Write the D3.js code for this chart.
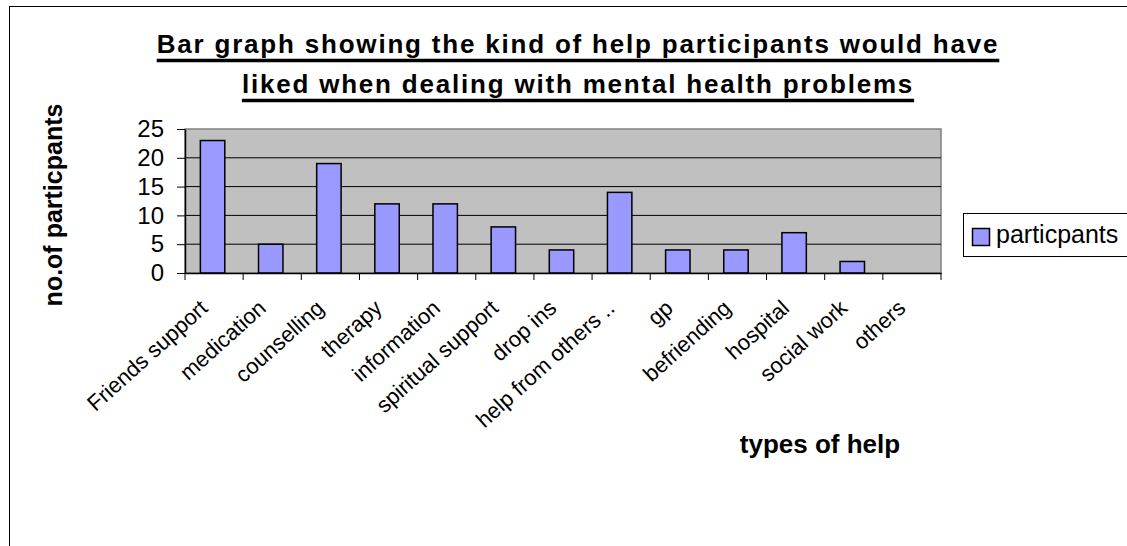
<!DOCTYPE html>
<html><head><meta charset="utf-8">
<script src="https://cdn.jsdelivr.net/npm/d3@7"></script>
<style>
html,body{margin:0;padding:0;background:#fff;}
svg{display:block;}
text{font-family:"Liberation Sans",Arial,sans-serif;fill:#000;}
</style></head>
<body>
<svg id="chart" width="1127" height="546"></svg>
<script>
const categories = ["Friends support","medication","counselling","therapy","information","spiritual support","drop ins","help from others ..","gp","befriending","hospital","social work","others"];
const participants = [23,5,19,12,12,8,4,14,4,4,7,2,0];
const yTicks = [0,5,10,15,20,25];
const titleLines = ["Bar graph showing the kind of help participants would have","liked when dealing with mental health problems"];
const seriesName = "particpants";
const yTitle = "no.of particpants";
const xTitle = "types of help";

const svg = d3.select("#chart");
// outer frame
svg.append("rect").attr("x",9.5).attr("y",6.5).attr("width",1140).attr("height",560)
  .attr("fill","#fff").attr("stroke","#000").attr("stroke-width",1);

const L=185, R=941, T=129, B=273;
const x = d3.scaleBand().domain(categories).range([L,R]).padding(0);
const y = d3.scaleLinear().domain([0,25]).range([B,T]);

// plot area
svg.append("rect").attr("x",L).attr("y",T).attr("width",R-L).attr("height",B-T)
  .attr("fill","#c0c0c0").attr("stroke","#808080").attr("stroke-width",1.5);

// gridlines
svg.append("g").selectAll("line").data(yTicks.filter(d=>d>0 && d<25)).join("line")
  .attr("x1",L).attr("x2",R).attr("y1",d=>y(d)).attr("y2",d=>y(d))
  .attr("stroke","#000").attr("stroke-width",1);

// bars
const bw = x.bandwidth()*0.42;
svg.append("g").selectAll("rect").data(categories).join("rect")
  .attr("x",(d)=>x(d)+x.bandwidth()/2-bw/2-1.5)
  .attr("y",(d,i)=>y(participants[i]))
  .attr("width",bw)
  .attr("height",(d,i)=>B-y(participants[i]))
  .attr("fill","#9999ff").attr("stroke","#000").attr("stroke-width",1.5);

// y axis
const yAxis = svg.append("g").attr("transform",`translate(${L},0)`)
  .call(d3.axisLeft(y).tickValues(yTicks).tickSize(8).tickPadding(13).tickSizeOuter(0));
yAxis.select(".domain").attr("stroke","#000").attr("stroke-width",1.5);
yAxis.selectAll(".tick line").attr("stroke","#000");
yAxis.selectAll(".tick text").attr("font-size",24).attr("font-family","'Liberation Sans',Arial,sans-serif").attr("fill","#000");

// x axis
const xAxis = svg.append("g").attr("transform",`translate(0,${B})`)
  .call(d3.axisBottom(x).tickSize(0).tickFormat(""));
xAxis.select(".domain").attr("stroke","#000").attr("stroke-width",1.5);
svg.append("g").selectAll("line").data(d3.range(categories.length+1)).join("line")
  .attr("x1",i=>L+i*x.step()).attr("x2",i=>L+i*x.step())
  .attr("y1",B).attr("y2",B+7).attr("stroke","#000").attr("stroke-width",1);

// x labels
svg.append("g").selectAll("text").data(categories).join("text")
  .attr("transform",d=>`translate(${x(d)+x.bandwidth()/2-5},${B+37}) rotate(-42)`)
  .attr("text-anchor","end").attr("font-size",22)
  .text(d=>d);

// title
titleLines.forEach((t,i)=>{
  const by = 53 + i*40;
  const tx = svg.append("text").attr("x",578).attr("y",by).attr("text-anchor","middle")
    .attr("font-size",26).attr("font-weight","bold").attr("letter-spacing",1.8).text(t);
  const bb = tx.node().getBBox();
  svg.append("line").attr("x1",bb.x).attr("x2",bb.x+bb.width).attr("y1",by+7.5).attr("y2",by+7.5)
    .attr("stroke","#000").attr("stroke-width",3.5);
});

// axis titles
svg.append("text").attr("transform","translate(62,205) rotate(-90)").attr("text-anchor","middle")
  .attr("font-size",25).attr("font-weight","bold").text(yTitle);
svg.append("text").attr("x",820).attr("y",453).attr("text-anchor","middle")
  .attr("font-size",26).attr("font-weight","bold").text(xTitle);

// legend
svg.append("rect").attr("x",963.5).attr("y",213.5).attr("width",180).attr("height",43)
  .attr("fill","#fff").attr("stroke","#000").attr("stroke-width",1);
svg.append("rect").attr("x",972.5).attr("y",228.5).attr("width",17).attr("height",17)
  .attr("fill","#9999ff").attr("stroke","#000").attr("stroke-width",1.5);
svg.append("text").attr("x",996).attr("y",243).attr("font-size",25).text(seriesName);
</script>
</body></html>
